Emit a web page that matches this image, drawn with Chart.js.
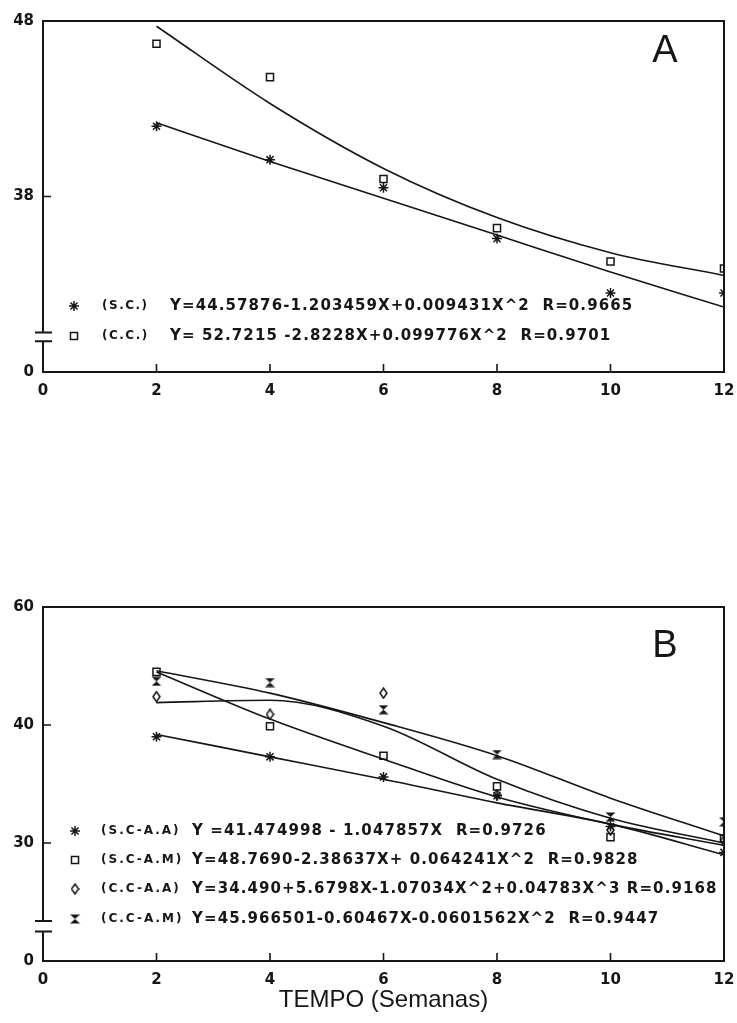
<!DOCTYPE html>
<html lang="pt">
<head>
<meta charset="UTF-8">
<title>TEMPO (Semanas)</title>
<script src="https://cdn.jsdelivr.net/npm/chart.js"></script>
<style>
  body { margin: 0; background: #fff; }
  canvas { position: absolute; left: 0; }
  #chartA { top: 0; }
  #chartB { top: 560px; }
</style>
</head>
<body>
<canvas id="chartA" width="737" height="420"></canvas>
<canvas id="chartB" width="737" height="463"></canvas>
<script>
// weeks on the x axis
const weeks = [2, 4, 6, 8, 10, 12];
const xTicks = [0, 2, 4, 6, 8, 10, 12];

// panel A - observed points and fitted curves
const aScPoints = [42.0, 40.1, 38.5, 35.6, 32.5, 32.5];
const aCcPoints = [46.7, 44.8, 39.0, 36.2, 34.3, 33.9];
const aScFit = [42.2, 40.0, 37.9, 35.8, 33.7, 31.7];
const aCcFit = [47.7, 43.3, 39.6, 36.8, 34.8, 33.5];
const aTickValues = [28, 38, 48];
const aTickLabels = ['0', '38', '48'];
const aNames = ['(S.C.)', '(C.C.)'];
const aEquations = [
  'Y=44.57876-1.203459X+0.009431X^2  R=0.9665',
  'Y= 52.7215 -2.8228X+0.099776X^2  R=0.9701'
];

// panel B
const bSaaPoints = [39.0, 37.3, 35.6, 34.0, 31.4, 29.2];
const bSamPoints = [44.5, 39.9, 37.4, 34.8, 30.5, 30.4];
const bCaaPoints = [42.4, 40.9, 42.7, 34.1, 31.1, 30.2];
const bCamPoints = [43.7, 43.6, 41.3, 37.5, 32.2, 31.8];
const bSaaFit = [39.2, 37.3, 35.4, 33.4, 31.6, 29.0];
const bSamFit = [44.5, 40.5, 37.1, 33.9, 31.6, 29.8];
const bCaaFit = [41.9, 42.1, 39.9, 35.4, 32.1, 30.0];
const bCamFit = [44.6, 42.7, 40.2, 37.4, 33.8, 30.6];
const bTickValues = [20, 30, 40, 50];
const bTickLabels = ['0', '30', '40', '60'];
const bNames = ['(S.C-A.A)', '(S.C-A.M)', '(C.C-A.A)', '(C.C-A.M)'];
const bEquations = [
  'Y =41.474998 - 1.047857X  R=0.9726',
  'Y=48.7690-2.38637X+ 0.064241X^2  R=0.9828',
  'Y=34.490+5.6798X-1.07034X^2+0.04783X^3 R=0.9168',
  'Y=45.966501-0.60467X-0.0601562X^2  R=0.9447'
];

const ink = '#161616';
const tickFont = { family: 'DejaVu Sans', weight: 'bold', size: 15 };

function xy(ys) {
  return weeks.map((x, i) => ({ x: x, y: ys[i] }));
}

// marker images for the symbols chart.js does not have
function hourglass() {
  const c = document.createElement('canvas');
  c.width = 11; c.height = 10;
  const g = c.getContext('2d');
  g.fillStyle = ink;
  g.beginPath();
  g.moveTo(0.5, 0.5); g.lineTo(10.5, 0.5); g.lineTo(5.5, 5);
  g.closePath(); g.fill();
  g.beginPath();
  g.moveTo(0.5, 9.5); g.lineTo(10.5, 9.5); g.lineTo(5.5, 5);
  g.closePath(); g.fill();
  return c;
}
function diamond() {
  const c = document.createElement('canvas');
  c.width = 9; c.height = 12;
  const g = c.getContext('2d');
  g.strokeStyle = ink;
  g.lineWidth = 1.5;
  g.beginPath();
  g.moveTo(4.5, 1); g.lineTo(8, 6); g.lineTo(4.5, 11); g.lineTo(1, 6);
  g.closePath(); g.stroke();
  return c;
}
const hourglassImg = hourglass();
const diamondImg = diamond();

const markStar = { pointStyle: 'star', radius: 5 };
const markRect = { pointStyle: 'rect', radius: 5 };
const markDiamond = { pointStyle: diamondImg, radius: 5 };
const markHourglass = { pointStyle: hourglassImg, radius: 5 };

function pointSet(ys, mark) {
  return {
    data: xy(ys),
    showLine: false,
    pointStyle: mark.pointStyle,
    pointRadius: mark.radius,
    pointBorderWidth: 1.5,
    pointBorderColor: ink,
    pointBackgroundColor: 'rgba(0,0,0,0)'
  };
}
function fitSet(ys) {
  return {
    data: xy(ys),
    showLine: true,
    pointRadius: 0,
    borderColor: ink,
    borderWidth: 1.6,
    fill: false,
    cubicInterpolationMode: 'monotone'
  };
}

// frame, inward ticks, axis break, panel letter and equation legend
const panelDeco = {
  id: 'panelDeco',
  afterDraw(chart, args, opts) {
    const ctx = chart.ctx;
    const a = chart.chartArea;
    const xs = chart.scales.x, ys = chart.scales.y;
    ctx.save();
    ctx.strokeStyle = ink;
    ctx.lineWidth = 2;
    const yHi = ys.getPixelForValue(opts.breakAt[0]);
    const yLo = ys.getPixelForValue(opts.breakAt[1]);
    ctx.beginPath();
    ctx.moveTo(a.left, yHi); ctx.lineTo(a.left, a.top); ctx.lineTo(a.right, a.top);
    ctx.lineTo(a.right, a.bottom); ctx.lineTo(a.left, a.bottom); ctx.lineTo(a.left, yLo);
    ctx.moveTo(a.left - 8, yHi); ctx.lineTo(a.left + 9, yHi);
    ctx.moveTo(a.left - 8, yLo); ctx.lineTo(a.left + 9, yLo);
    ctx.stroke();

    ctx.lineWidth = 1.6;
    ctx.beginPath();
    xTicks.forEach(v => {
      const px = xs.getPixelForValue(v);
      ctx.moveTo(px, a.bottom); ctx.lineTo(px, a.bottom - 8);
    });
    opts.innerTicks.forEach(v => {
      const py = ys.getPixelForValue(v);
      ctx.moveTo(a.left, py); ctx.lineTo(a.left + 8, py);
    });
    ctx.stroke();

    ctx.fillStyle = ink;
    ctx.textAlign = 'center';
    ctx.textBaseline = 'middle';
    ctx.font = '38px "Liberation Sans Narrow", "Liberation Sans", sans-serif';
    ctx.fillText(opts.letter, opts.letterAt[0], opts.letterAt[1]);

    ctx.textAlign = 'left';
    opts.rows.forEach((row, i) => {
      const y = opts.rowY[i];
      ctx.fillStyle = 'rgba(0,0,0,0)';
      ctx.strokeStyle = ink;
      ctx.lineWidth = 1.5;
      Chart.helpers.drawPoint(ctx, {
        pointStyle: row.mark.pointStyle, radius: row.mark.radius,
        borderWidth: 1.5, rotation: 0
      }, opts.markX, y);
      ctx.fillStyle = ink;
      ctx.font = 'bold 12px "DejaVu Sans"';
      ctx.letterSpacing = opts.nameSpacing;
      ctx.fillText(row.name, opts.nameX, y);
      ctx.font = 'bold 15px "DejaVu Sans"';
      ctx.letterSpacing = '1.1px';
      ctx.fillText(row.eq, opts.eqX, y);
    });
    ctx.restore();
  }
};

function makeChart(id, datasets, yMin, yMax, tickValues, tickLabels, padding, xHeight, withTitle, deco) {
  return new Chart(document.getElementById(id), {
    type: 'scatter',
    data: { datasets: datasets },
    plugins: [panelDeco],
    options: {
      responsive: false,
      animation: false,
      events: [],
      devicePixelRatio: 1,
      layout: { padding: padding },
      plugins: { legend: { display: false }, tooltip: { enabled: false }, panelDeco: deco },
      scales: {
        x: {
          type: 'linear', min: 0, max: 12,
          grid: { display: false, drawTicks: false },
          border: { display: false },
          afterBuildTicks: s => { s.ticks = xTicks.map(v => ({ value: v })); },
          afterFit: s => { s.height = xHeight; s.paddingLeft = 0; s.paddingRight = 0; },
          ticks: { autoSkip: false, maxRotation: 0, padding: 10, color: ink, font: tickFont },
          title: {
            display: withTitle, text: 'TEMPO (Semanas)', color: ink,
            font: { family: 'Liberation Sans', size: 24 }, padding: { top: 0, bottom: 8 }
          }
        },
        y: {
          min: yMin, max: yMax,
          grid: { display: false, drawTicks: false },
          border: { display: false },
          afterBuildTicks: s => { s.ticks = tickValues.map(v => ({ value: v })); },
          afterFit: s => { s.width = 43; },
          ticks: {
            autoSkip: false, padding: 9, color: ink, font: tickFont,
            callback: v => tickLabels[tickValues.indexOf(v)]
          }
        }
      }
    }
  });
}

makeChart('chartA', [
  pointSet(aScPoints, markStar),
  pointSet(aCcPoints, markRect),
  fitSet(aScFit),
  fitSet(aCcFit)
], 28, 48, aTickValues, aTickLabels, { left: 0, right: 13, top: 21, bottom: 0 }, 48, false, {
  breakAt: [30.25, 29.75],
  innerTicks: [38],
  letter: 'A', letterAt: [665, 52],
  markX: 74, nameX: 102, eqX: 170, nameSpacing: '1.5px',
  rowY: [306, 336],
  rows: aNames.map((n, i) => ({ name: n, eq: aEquations[i], mark: [markStar, markRect][i] }))
});

makeChart('chartB', [
  pointSet(bSaaPoints, markStar),
  pointSet(bSamPoints, markRect),
  pointSet(bCaaPoints, markDiamond),
  pointSet(bCamPoints, markHourglass),
  fitSet(bSaaFit),
  fitSet(bSamFit),
  fitSet(bCaaFit),
  fitSet(bCamFit)
], 20, 50, bTickValues, bTickLabels, { left: 0, right: 13, top: 47, bottom: 0 }, 62, true, {
  breakAt: [23.4, 22.5],
  innerTicks: [30, 40],
  letter: 'B', letterAt: [665, 87],
  markX: 75, nameX: 101, eqX: 192, nameSpacing: '2px',
  rowY: [271, 300, 329, 359],
  rows: bNames.map((n, i) => ({ name: n, eq: bEquations[i], mark: [markStar, markRect, markDiamond, markHourglass][i] }))
});
</script>
</body>
</html>
